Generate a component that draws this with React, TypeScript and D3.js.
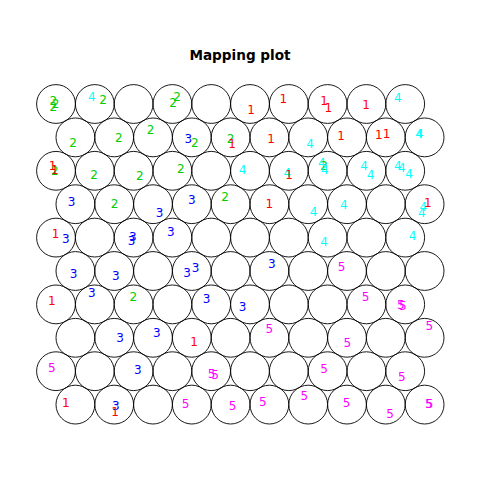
import { useRef, useEffect } from 'react';
import * as d3 from 'd3';

// SOM grid: 10 x 10 hexagonal units, unit 1 at bottom-left
const GRID_COLS = 10;
const GRID_ROWS = 10;

// mapped samples: class label, winning unit, jitter inside the unit (grid units)
const CLASSES = [
  2, 2, 2, 4, 2, 2, 2, 1, 1, 1, 1, 1, 4,
  2, 2, 2, 3, 2, 2, 1, 1, 4, 1, 1, 1, 4, 4,
  1, 2, 1, 2, 2, 2, 4, 4, 1, 4, 2, 4, 4, 4, 4, 4, 4,
  3, 2, 3, 3, 2, 1, 4, 4, 1, 4, 4,
  1, 3, 3, 3, 3, 4, 4,
  3, 3, 3, 3, 3, 5,
  1, 3, 2, 3, 3, 5, 5, 5,
  3, 3, 1, 5, 5, 5,
  5, 3, 5, 5, 5, 5,
  1, 3, 1, 5, 5, 5, 5, 5, 5, 5, 5,
];
const UNITS = [
  91, 91, 91, 92, 92, 94, 94, 96, 97, 98, 98, 99, 100,
  81, 82, 83, 84, 84, 85, 85, 86, 87, 88, 89, 89, 90, 90,
  71, 71, 71, 72, 73, 74, 76, 77, 77, 78, 78, 78, 79, 79, 80, 80, 80,
  61, 62, 63, 64, 65, 66, 67, 68, 70, 70, 70,
  51, 51, 53, 53, 54, 58, 60,
  41, 42, 44, 44, 46, 48,
  31, 32, 33, 35, 36, 39, 40, 40,
  22, 23, 24, 26, 28, 30,
  11, 13, 15, 15, 18, 20,
  1, 2, 2, 4, 5, 6, 7, 8, 9, 10, 10,
];
const JITTER_X = [
  -0.07, -0.01, -0.07, -0.08, 0.21, 0.12, 0.02, 0.03, -0.14, -0.09, 0.02, -0.01, -0.19,
  -0.06, 0.12, -0.06, -0.09, 0.08, 0.0, 0.04, 0.04, 0.05, -0.15, -0.18, 0.02, -0.14, -0.12,
  -0.09, -0.03, -0.03, -0.02, 0.16, 0.22, -0.19, -0.04, 0.01, -0.15, -0.09, -0.07, -0.06, 0.11, -0.19, -0.09, 0.10,
  -0.10, 0.01, 0.17, 0.0, -0.14, 0.0, 0.14, -0.08, 0.08, -0.03, -0.07,
  -0.01, 0.25, -0.02, -0.05, -0.04, -0.09, 0.19,
  -0.05, 0.04, -0.12, 0.10, 0.06, -0.14,
  -0.11, -0.08, -0.01, -0.12, -0.19, -0.02, -0.11, -0.06,
  0.15, 0.10, 0.06, 0.0, 0.01, 0.12,
  -0.11, 0.11, 0.01, 0.10, -0.09, -0.09,
  -0.25, 0.04, 0.02, -0.16, 0.05, -0.17, -0.10, -0.01, 0.11, 0.11, 0.13,
];
const JITTER_Y = [
  0.07, 0.0, -0.09, 0.18, 0.10, 0.18, 0.03, -0.16, 0.12, 0.08, -0.10, -0.02, 0.16,
  -0.14, -0.01, 0.20, -0.03, -0.14, -0.03, -0.16, -0.03, -0.16, 0.03, 0.05, 0.08, 0.10, 0.09,
  0.13, -0.01, 0.03, -0.12, -0.14, 0.04, 0.01, -0.05, -0.10, 0.20, 0.12, 0.01, 0.12, -0.12, 0.12, 0.08, -0.09,
  0.06, 0.0, -0.23, 0.10, 0.19, 0.01, -0.19, -0.02, 0.02, -0.06, -0.23,
  0.09, -0.04, 0.02, -0.09, 0.15, -0.11, 0.05,
  -0.08, -0.13, -0.06, 0.07, 0.18, 0.11,
  0.10, 0.30, 0.20, 0.13, -0.07, 0.18, -0.02, -0.03,
  -0.01, 0.12, -0.10, 0.22, -0.14, 0.30,
  0.09, 0.03, -0.07, -0.10, 0.05, -0.14,
  0.03, -0.03, -0.18, 0.01, -0.03, 0.06, 0.23, 0.03, -0.24, 0.02, 0.01,
];

// R palette colours for classes 1..5 (col = class + 1)
const CLASS_COLORS = ['#FF0000', '#00CD00', '#0000FF', '#00FFFF', '#FF00FF'];

function unitPos(u: number) {
  const r = Math.floor((u - 1) / GRID_COLS);
  const c = (u - 1) % GRID_COLS;
  return { x: c + 1 + (r % 2 === 0 ? 0.5 : 0), y: (r * Math.sqrt(3)) / 2 };
}

export default function App() {
  const ref = useRef<SVGSVGElement>(null);

  useEffect(() => {
    const svg = ref.current;
    if (!svg) return;
    const W = 480, H = 480;
    d3.select(svg).selectAll('*').remove();
    const g = d3.select(svg).attr('viewBox', `0 0 ${W} ${H}`).append('g');

    const yMax = ((GRID_ROWS - 1) * Math.sqrt(3)) / 2;
    const xScale = d3.scaleLinear().domain([1, GRID_COLS + 0.5]).range([56, 424.6]);
    const yScale = d3.scaleLinear().domain([0, yMax]).range([404.6, 104]);
    const radius = xScale(1.5) - xScale(1);

    const units = d3.range(1, GRID_COLS * GRID_ROWS + 1);
    g.selectAll('circle.unit')
      .data(units)
      .join('circle')
      .attr('class', 'unit')
      .attr('cx', (u) => xScale(unitPos(u).x))
      .attr('cy', (u) => yScale(unitPos(u).y))
      .attr('r', radius)
      .attr('fill', 'none')
      .attr('stroke', '#000')
      .attr('stroke-width', 0.9);

    g.selectAll('text.pt')
      .data(CLASSES.map((cl, i) => ({ cl, u: UNITS[i], dx: JITTER_X[i], dy: JITTER_Y[i] })))
      .join('text')
      .attr('class', 'pt')
      .attr('x', (d) => xScale(unitPos(d.u).x + d.dx))
      .attr('y', (d) => yScale(unitPos(d.u).y + d.dy))
      .attr('text-anchor', 'middle')
      .attr('dominant-baseline', 'central')
      .attr('font-size', 12)
      .attr('fill', (d) => CLASS_COLORS[d.cl - 1])
      .text((d) => String(d.cl));

    // Title
    g.append('text')
      .attr('x', W / 2).attr('y', 55)
      .attr('text-anchor', 'middle').attr('dominant-baseline', 'central')
      .attr('font-size', 13.6).attr('font-weight', 'bold').attr('fill', '#000')
      .text('Mapping plot');
  }, []);

  return (
    <svg
      ref={ref}
      width={480}
      height={480}
      style={{ position: 'absolute', left: 0, top: 0, background: '#fff', fontFamily: '"DejaVu Sans", sans-serif' }}
    />
  );
}
